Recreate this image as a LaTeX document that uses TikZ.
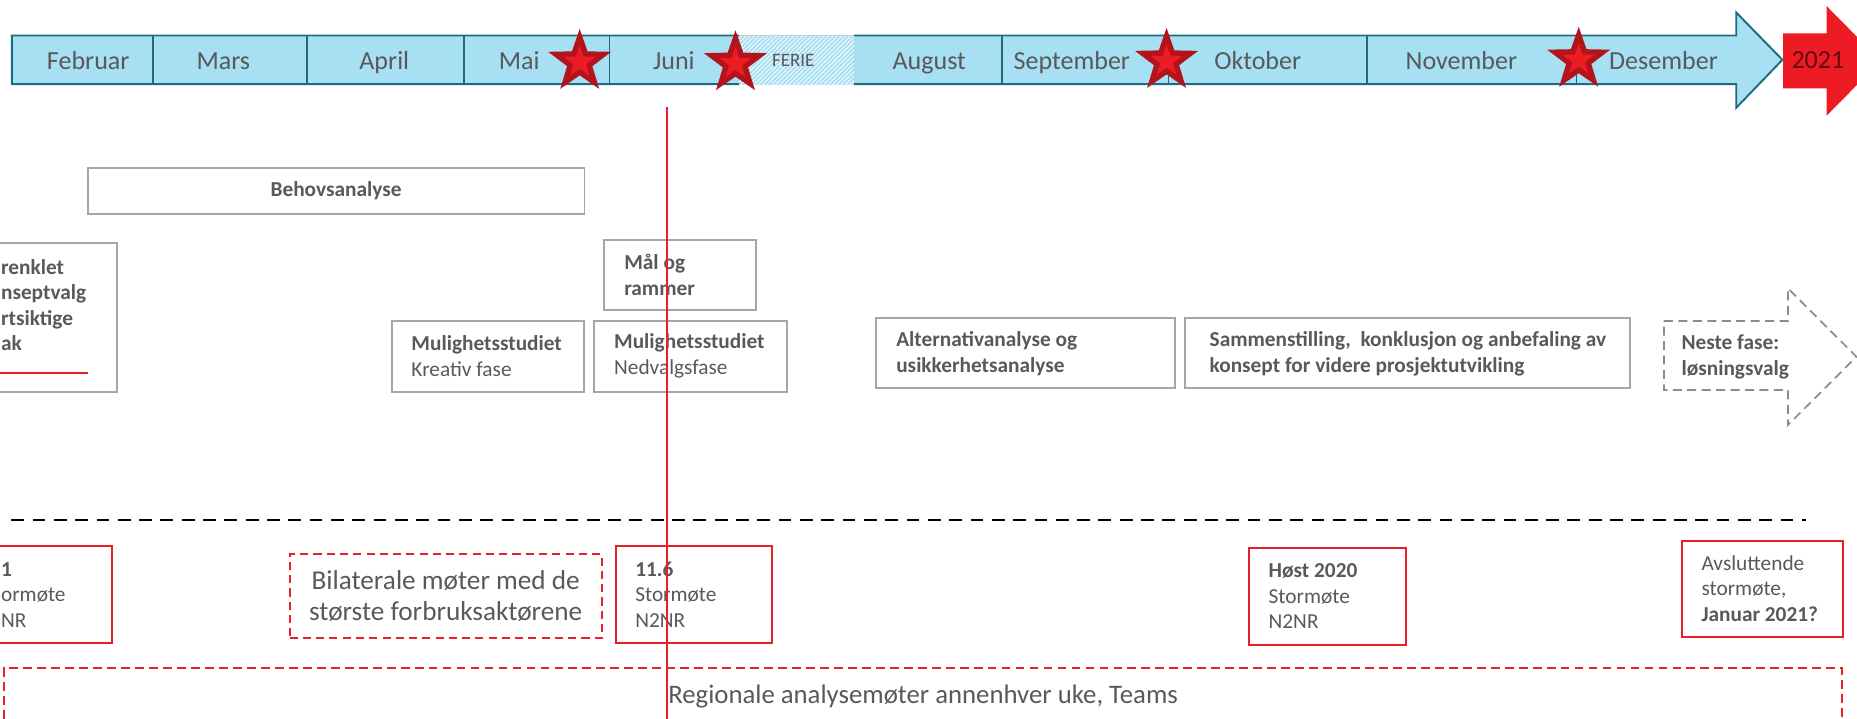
\documentclass[tikz,border=0pt]{standalone}
\usepackage{fontspec}
\setmainfont{Carlito}
\usetikzlibrary{positioning, shapes.geometric, patterns.meta}
\definecolor{txtgray}{HTML}{595959}
\definecolor{boxgray}{HTML}{A6A6A6}
\definecolor{tlblue}{HTML}{A6E0F2}
\definecolor{tlteal}{HTML}{1F6A80}
\definecolor{mred}{HTML}{E8202A}
\definecolor{stardark}{HTML}{B3141B}
\definecolor{starlight}{HTML}{ED1C24}

\begin{document}
\begin{tikzpicture}[x=0.5pt, y=-0.5pt,
    execute at begin node={\spaceskip=0pt\xspaceskip=0pt},
    month/.style={anchor=base, text=txtgray, inner sep=0pt, font=\fontsize{11}{13}\selectfont},
    phase/.style={rectangle, draw=boxgray, line width=0.8pt, text=txtgray, align=left, font=\fontsize{9}{11}\selectfont, inner xsep=8.4pt, inner ysep=0pt, minimum height=29.9pt},
    meet/.style={rectangle, draw=mred, line width=0.9pt, text=txtgray, align=left, font=\fontsize{9}{10.8}\selectfont, inner xsep=8.2pt, inner ysep=0pt, minimum height=41.1pt},
    milestone/.style={star, star points=5, star point ratio=2.5, fill=stardark, inner sep=0pt, minimum size=28pt},
    milecore/.style={milestone, fill=starlight, minimum size=14pt},
  ]
  \useasboundingbox (0,0) rectangle (1568,607);
  \clip (0,0) rectangle (1568,607);

  % timeline
  \draw[fill=tlblue, draw=tlteal, line width=0.8pt] (10,30) -- (1466,30) -- (1466,10.5) -- (1505,50.5) -- (1466,91) -- (1466,71) -- (10,71) -- cycle;
  \fill[white] (624,28.5) rectangle (721,72.5);
  \fill[pattern={Lines[angle=45, distance=1.3pt, line width=0.85pt]}, pattern color=tlblue] (624,30) rectangle (721,71);
  \draw[black!20, line width=0.4pt] (624,30) -- (721,30);
  \foreach \dx in {129,259,392,514.5,846,986.5,1154,1331}
    \draw[tlteal, line width=0.7pt] (\dx,30) -- (\dx,71);
  \fill[starlight] (1505.6,28.1) -- (1542.3,28.1) -- (1542.3,5.1) -- (1588,51.4) -- (1542.3,97.7) -- (1542.3,74.6) -- (1505.6,74.6) -- cycle;

  \node[month] (feb) at (74.5,58.5) {Februar};
  \node[month] (mar) at (188.6,58.5) {Mars};
  \node[month] (apr) at (324.5,58.5) {April};
  \node[month] (mai) at (438.4,58.5) {Mai};
  \node[month] (jun) at (569,58.5) {Juni};
  \node[month, font=\fontsize{8}{10}\selectfont] (ferie) at (669.8,56.5) {FERIE};
  \node[month] (aug) at (784.6,58.5) {August};
  \node[month] (sep) at (905,58.5) {September};
  \node[month] (okt) at (1062,58.5) {Oktober};
  \node[month] (nov) at (1234,58.5) {November};
  \node[month] (des) at (1404.6,58.5) {Desember};
  \node[month, text=stardark!55!black] (y2021) at (1535,58) {2021};

  \node[milestone] (stmai) at (489.5,52.4) {};
  \node[milecore] (stmaic) at (stmai) {};
  \node[milestone] (stjun) at (621,53.5) {};
  \node[milecore] (stjunc) at (stjun) {};
  \node[milestone] (stsep) at (985,51.6) {};
  \node[milecore] (stsepc) at (stsep) {};
  \node[milestone] (stdes) at (1333,50.6) {};
  \node[milecore] (stdesc) at (stdes) {};

  % phases
  \node[phase, minimum width=209.75pt, minimum height=19.35pt, align=center, font=\bfseries\fontsize{9}{11}\selectfont] (behov) at (283.75,161.4) {Behovsanalyse};
  \node[phase, minimum width=54.25pt, minimum height=62.6pt] (forenklet) at (44.25,268.1) {};
  \node[anchor=west, align=left, inner sep=0pt, text=txtgray, font=\bfseries\fontsize{9}{10.8}\selectfont] (forenkletTxt) at (0.5,257.5) {renklet\\nseptvalg\\rtsiktige\\ak};
  \draw[mred, line width=0.9pt] (0,314.7) -- (74.6,314.7);
  \node[phase, text width=64.6pt] (kreativ) at (412.05,300.75) {\textbf{Mulighetsstudiet}\\Kreativ fase};
  \node[phase, text width=64.6pt, right=3.35pt of kreativ] (nedvalg) {\textbf{Mulighetsstudiet}\\Nedvalgsfase};
  \node[phase, text width=47.1pt, minimum height=29.6pt, above=3.8pt of nedvalg, xshift=-4.45pt, font=\bfseries\fontsize{9}{11}\selectfont] (maal) {Mål og\\rammer};
  \node[phase, text width=109.2pt, minimum height=29.55pt, font=\bfseries\fontsize{9}{11}\selectfont] (alt) at (866,298.35) {Alternativanalyse og\\usikkerhetsanalyse};
  \node[phase, text width=167pt, inner xsep=10.4pt, minimum height=29.55pt, right=3.5pt of alt, font=\bfseries\fontsize{9}{11}\selectfont] (sammen) {\mbox{Sammenstilling, \ konklusjon og anbefaling av}\\konsept for videre prosjektutvikling};
  \draw[black!45, line width=0.7pt, dash pattern=on 3.8pt off 2.3pt] (1405,271) -- (1509.7,271) -- (1509.7,243.5) -- (1567.5,301.2) -- (1509.7,358.9) -- (1509.7,329.3) -- (1405,329.3) -- cycle;
  \node[anchor=west, align=left, inner sep=0pt, text=txtgray, font=\bfseries\fontsize{9}{11}\selectfont] (neste) at (1419.4,301.4) {Neste fase:\\løsningsvalg};

  \draw[line width=0.7pt, dash pattern=on 5.4pt off 3.6pt] (9.5,439) -- (1525,439);

  % meetings
  \node[meet, minimum width=52.35pt] (stor1) at (42.35,502.1) {};
  \node[anchor=west, align=left, inner sep=0pt, text=txtgray, font=\fontsize{9}{10.8}\selectfont] (stor1Txt) at (0.5,502.4) {\textbf{1}\\ormøte\\NR};
  \node[meet, dash pattern=on 3.4pt off 2.2pt, align=center, font=\fontsize{11.5}{13.3}\selectfont, minimum width=130.7pt, minimum height=35.6pt] (bilat) at (376.3,503.4) {Bilaterale møter med de\\største forbruksaktørene};
  \node[meet, text width=49.5pt] (stor2) at (585.9,502.1) {\textbf{11.6}\\Stormøte\\N2NR};
  \node[meet, text width=49.8pt] (stor3) at (1121,503.5) {\textbf{Høst 2020}\\Stormøte\\N2NR};
  \node[meet, text width=51.6pt, minimum height=40.55pt] (avsl) at (1488.3,497) {Avsluttende\\stormøte,\\\textbf{Januar 2021?}};
  \node[meet, dash pattern=on 3.7pt off 2.2pt, align=center, font=\fontsize{11.3}{13}\selectfont, minimum width=776pt, minimum height=23.4pt] (regional) at (779.4,587.7) {Regionale analysemøter annenhver uke, Teams};

  \coordinate (cuttop) at (563,90);
  \coordinate (cutbot) at (563,607);
  \draw[mred, line width=0.7pt] (cuttop) -- (cutbot);
\end{tikzpicture}
\end{document}
